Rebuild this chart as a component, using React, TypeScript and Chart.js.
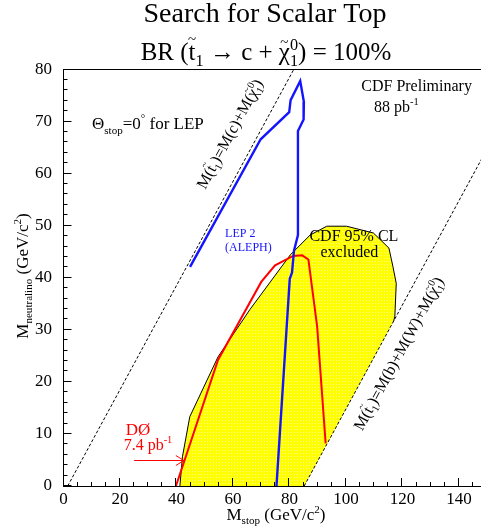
import { useEffect, useRef } from 'react';
import { Chart, registerables } from 'chart.js';
Chart.register(...registerables);

const W = 481;
const H = 531;
const SERIF = "'Liberation Serif', 'Times New Roman', serif";

// ---- data ----
const xMin = 0;
const xMax = 147.8;
const yMin = 0;
const yMax = 80;
const xMajorTicks = [0, 20, 40, 60, 80, 100, 120, 140];
const xMinorTicks = [5, 10, 15, 25, 30, 35, 45, 50, 55, 65, 70, 75, 85, 90, 95, 105, 110, 115, 125, 130, 135, 145];
const yMajorTicks = [0, 10, 20, 30, 40, 50, 60, 70, 80];
const yMinorTicks = [2, 4, 6, 8, 12, 14, 16, 18, 22, 24, 26, 28, 32, 34, 36, 38, 42, 44, 46, 48, 52, 54, 56, 58, 62, 64, 66, 68, 72, 74, 76, 78];

// CDF 95% CL excluded region
const cdfX = [41.2, 42.1, 44.7, 54.7, 66.0, 80.3, 87.3, 93.2, 100.2, 109.7, 115.2, 116.6, 117.8, 117.3, 116.9, 85.2];
const cdfY = [0, 5.6, 13.3, 24.8, 33.9, 44.4, 48.2, 49.9, 49.9, 48.6, 45.7, 42.2, 38.9, 32.6, 31.7, 0];
// D0 7.4 pb-1 limit
const d0X = [39.8, 42.9, 54.7, 70.0, 74.9, 81.3, 84.5, 86.7, 89.8, 92.8];
const d0Y = [0, 5.0, 24.2, 39.2, 42.4, 44.2, 44.3, 43.5, 30.6, 8.2];
// LEP 2 (ALEPH) limit
const lepX = [44.8, 69.8, 79.9, 80.4, 83.8, 85.1, 85.0, 83.0, 83.0, 81.6, 80.9, 80.1, 75.4];
const lepY = [42.1, 66.6, 71.8, 74.1, 77.8, 73.8, 70.4, 68.2, 48.2, 45.2, 41.0, 39.8, 0];
// kinematic limits
const kinCX = [1.5, 81.5];
const kinCY = [0, 80];
const kinBWX = [85.2, 150.0];
const kinBWY = [0, 64.8];

const pts = (xs: number[], ys: number[]) => xs.map((x, i) => ({ x, y: ys[i] }));

type Seg = { t?: string; sub?: string; sup?: string; tilde?: number };

function drawRich(
  ctx: CanvasRenderingContext2D,
  segs: Seg[],
  x: number,
  y: number,
  size: number,
  color: string,
  align: 'left' | 'center' | 'right',
  rot = 0
) {
  ctx.save();
  ctx.translate(x, y);
  ctx.rotate(rot);
  ctx.fillStyle = color;
  ctx.textBaseline = 'alphabetic';
  ctx.textAlign = 'left';
  const small = size * 0.65;
  const widths = segs.map((s) => {
    let w = 0;
    if (s.t) {
      ctx.font = `${size}px ${SERIF}`;
      w = ctx.measureText(s.t).width;
    }
    let ws = 0;
    ctx.font = `${small}px ${SERIF}`;
    if (s.sub) ws = Math.max(ws, ctx.measureText(s.sub).width);
    if (s.sup) ws = Math.max(ws, ctx.measureText(s.sup).width);
    return w + ws;
  });
  const total = widths.reduce((a, b) => a + b, 0);
  let cx = align === 'left' ? 0 : align === 'center' ? -total / 2 : -total;
  segs.forEach((s, i) => {
    let w = 0;
    if (s.t) {
      ctx.font = `${size}px ${SERIF}`;
      ctx.fillText(s.t, cx, 0);
      w = ctx.measureText(s.t).width;
      if (s.tilde) {
        ctx.font = `${size * 0.6}px ${SERIF}`;
        ctx.textAlign = 'center';
        ctx.textBaseline = 'middle';
        ctx.fillText('~', cx + w / 2, -size * s.tilde);
        ctx.textAlign = 'left';
        ctx.textBaseline = 'alphabetic';
      }
    }
    ctx.font = `${small}px ${SERIF}`;
    if (s.sub) ctx.fillText(s.sub, cx + w, size * 0.25);
    if (s.sup) ctx.fillText(s.sup, cx + w, -size * 0.42);
    cx += widths[i];
  });
  ctx.restore();
}

const overlay = {
  id: 'overlay',
  afterDatasetsDraw(chart: any) {
    const { ctx, chartArea } = chart;
    const xs = chart.scales.x;
    const ys = chart.scales.y;
    ctx.save();
    ctx.strokeStyle = '#000';
    ctx.lineWidth = 1;
    ctx.beginPath();
    const bottom = Math.round(chartArea.bottom);
    const left = Math.round(chartArea.left) - 0.5;
    xMajorTicks.forEach((v) => {
      const p = Math.round(xs.getPixelForValue(v)) - 0.5;
      ctx.moveTo(p, bottom);
      ctx.lineTo(p, bottom - 8);
    });
    xMinorTicks.forEach((v) => {
      const p = Math.round(xs.getPixelForValue(v)) - 0.5;
      ctx.moveTo(p, bottom);
      ctx.lineTo(p, bottom - 4);
    });
    yMajorTicks.forEach((v) => {
      const p = Math.round(ys.getPixelForValue(v)) - 0.5;
      ctx.moveTo(left, p);
      ctx.lineTo(left + 8, p);
    });
    yMinorTicks.forEach((v) => {
      const p = Math.round(ys.getPixelForValue(v)) - 0.5;
      ctx.moveTo(left, p);
      ctx.lineTo(left + 4, p);
    });
    // top frame
    const top = Math.round(chartArea.top) - 0.5;
    ctx.moveTo(left, top);
    ctx.lineTo(chartArea.right, top);
    ctx.stroke();
    ctx.restore();
  },
  afterDraw(chart: any) {
    const { ctx } = chart;
    const xs = chart.scales.x;
    const ys = chart.scales.y;
    const X = (v: number) => xs.getPixelForValue(v);
    const Y = (v: number) => ys.getPixelForValue(v);
    const black = '#000';
    // titles
    drawRich(ctx, [{ t: 'Search for Scalar Top' }], 265, 22, 28, black, 'center');
    drawRich(
      ctx,
      [
        { t: 'BR (' },
        { t: 't', tilde: 0.78, sub: '1' },
        { t: ' \u2192 c + ' },
        { t: '\u03c7', tilde: 0.66, sub: '1', sup: '0' },
        { t: ') = 100%' },
      ],
      266,
      60,
      25,
      black,
      'center'
    );
    // axis titles
    drawRich(ctx, [{ t: 'M', sub: 'stop' }, { t: ' (GeV/c', sup: '2' }, { t: ')' }], 276, 520, 17, black, 'center');
    drawRich(ctx, [{ t: 'M', sub: 'neutralino' }, { t: ' (GeV/c', sup: '2' }, { t: ')' }], 28, 276, 17, black, 'center', -Math.PI / 2);
    // annotations
    drawRich(ctx, [{ t: '\u0398', sub: 'stop' }, { t: '=0', sup: '\u00b0' }, { t: ' for LEP' }], X(10.1), Y(68.5), 17, black, 'left');
    drawRich(ctx, [{ t: 'CDF Preliminary' }], X(125), Y(75.8), 16, black, 'center');
    drawRich(ctx, [{ t: '88 pb', sup: '-1' }], X(109.9), Y(71.8), 16, black, 'left');
    drawRich(ctx, [{ t: 'LEP 2' }], X(57.2), Y(47.8), 12, '#1414ff', 'left');
    drawRich(ctx, [{ t: '(ALEPH)' }], X(57.2), Y(45.1), 12, '#1414ff', 'left');
    drawRich(ctx, [{ t: 'CDF 95% CL' }], X(102.8), Y(47.0), 16, black, 'center');
    drawRich(ctx, [{ t: 'excluded' }], X(101.2), Y(43.9), 16, black, 'center');
    drawRich(ctx, [{ t: 'D\u00d8' }], X(26.4), Y(9.8), 17, '#ff0000', 'center');
    drawRich(ctx, [{ t: '7.4 pb', sup: '-1' }], X(29.9), Y(6.9), 16, '#ff0000', 'center');
    // arrow to D0 curve
    const ay = Math.round(Y(5.0)) + 0.5;
    const ax0 = X(25);
    const ax1 = X(42.6);
    ctx.save();
    ctx.strokeStyle = '#ff0000';
    ctx.lineWidth = 1;
    ctx.beginPath();
    ctx.moveTo(ax0, ay);
    ctx.lineTo(ax1, ay);
    ctx.moveTo(ax1 - 8, ay - 5);
    ctx.lineTo(ax1, ay);
    ctx.lineTo(ax1 - 8, ay + 5);
    ctx.stroke();
    ctx.restore();
    // kinematic limit labels
    const ang = -Math.atan2(Y(0) - Y(10), X(10) - X(0));
    const lblC: Seg[] = [
      { t: 'M(' },
      { t: 't', tilde: 0.78, sub: '1' },
      { t: ')=M(c)+M(' },
      { t: '\u03c7', tilde: 0.66, sub: '1', sup: '0' },
      { t: ')' },
    ];
    const lblBW: Seg[] = [
      { t: 'M(' },
      { t: 't', tilde: 0.78, sub: '1' },
      { t: ')=M(b)+M(W)+M(' },
      { t: '\u03c7', tilde: 0.66, sub: '1', sup: '0' },
      { t: ')' },
    ];
    const off = 6;
    const cx1 = X(58.6), cy1 = Y(67.7);
    drawRich(ctx, lblC, cx1 + off * Math.cos(ang + Math.PI / 2), cy1 + off * Math.sin(ang + Math.PI / 2), 16, black, 'center', ang);
    const cx2 = X(118.4), cy2 = Y(25.5);
    drawRich(ctx, lblBW, cx2 + off * Math.cos(ang + Math.PI / 2), cy2 + off * Math.sin(ang + Math.PI / 2), 16, black, 'center', ang);
  },
};

export default function App() {
  const ref = useRef<HTMLCanvasElement | null>(null);
  useEffect(() => {
    const canvas = ref.current;
    if (!canvas) return;
    const ctx = canvas.getContext('2d')!;
    const pc = document.createElement('canvas');
    pc.width = 3;
    pc.height = 3;
    const p = pc.getContext('2d')!;
    p.fillStyle = '#ffff00';
    p.fillRect(0, 0, 3, 3);
    p.fillStyle = '#ffff90';
    p.fillRect(0, 0, 1, 1);
    const pattern = ctx.createPattern(pc, 'repeat')!;

    const lineDs = (data: any[], color: string, width: number, dash: number[] = []) => ({
      data,
      showLine: true,
      borderColor: color,
      borderWidth: width,
      borderDash: dash,
      pointRadius: 0,
      pointHoverRadius: 0,
      fill: false,
      tension: 0,
    });

    const chart = new Chart(ctx, {
      type: 'scatter',
      data: {
        datasets: [
          lineDs(pts(lepX, lepY), '#1414ff', 2.4),
          lineDs(pts(d0X, d0Y), '#ff0000', 2),
          lineDs(pts(kinCX, kinCY), '#000', 1, [3, 2]),
          lineDs(pts(kinBWX, kinBWY), '#000', 1, [3, 2]),
          lineDs(pts(cdfX.slice(0, cdfX.length - 1), cdfY.slice(0, cdfY.length - 1)), '#000', 1),
          {
            data: pts(cdfX, cdfY),
            showLine: true,
            borderWidth: 0,
            borderColor: 'rgba(0,0,0,0)',
            backgroundColor: pattern as any,
            pointRadius: 0,
            pointHoverRadius: 0,
            fill: 'shape',
            tension: 0,
          } as any,
        ],
      },
      options: {
        responsive: false,
        animation: false,
        events: [],
        layout: { padding: { top: 69.5, left: 0, right: 0, bottom: 0 } },
        plugins: {
          legend: { display: false },
          tooltip: { enabled: false },
          title: { display: false },
        },
        scales: {
          x: {
            type: 'linear',
            min: xMin,
            max: xMax,
            grid: { display: false, drawTicks: false },
            border: { display: true, color: '#000', width: 1 },
            ticks: {
              stepSize: 20,
              includeBounds: false,
              padding: 3,
              color: '#000',
              font: { family: SERIF, size: 17 },
              maxRotation: 0,
            },
            afterFit: (s: any) => {
              s.height = 45;
            },
          },
          y: {
            type: 'linear',
            min: yMin,
            max: yMax,
            grid: { display: false, drawTicks: false },
            border: { display: true, color: '#000', width: 1 },
            ticks: {
              stepSize: 10,
              includeBounds: false,
              padding: 11.5,
              color: '#000',
              font: { family: SERIF, size: 17 },
            },
            afterFit: (s: any) => {
              s.width = 63.5;
            },
          },
        },
      },
      plugins: [overlay],
    });
    return () => chart.destroy();
  }, []);
  return (
    <div style={{ position: 'absolute', left: 0, top: 0, width: W, height: H, background: '#fff', overflow: 'hidden' }}>
      <canvas ref={ref} width={W} height={H} style={{ display: 'block' }} />
    </div>
  );
}
